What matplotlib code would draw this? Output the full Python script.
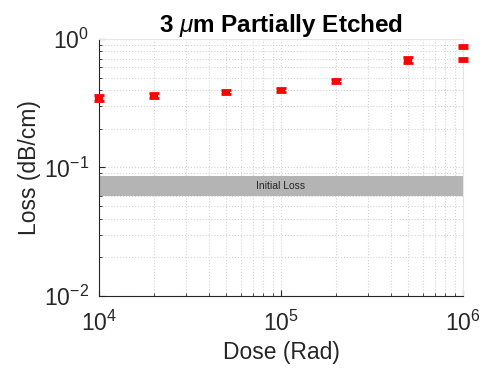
import matplotlib
matplotlib.use("Agg")
import matplotlib.pyplot as plt
import numpy as np

plt.rcParams['font.family'] = ['Liberation Sans', 'DejaVu Sans']
plt.rcParams['mathtext.fontset'] = 'custom'
plt.rcParams['mathtext.rm'] = 'Liberation Sans'
plt.rcParams['mathtext.it'] = 'Liberation Sans:italic'
plt.rcParams['mathtext.bf'] = 'Liberation Sans:bold'

# measured points (dose in Rad, loss in dB/cm)
dose = [1e4, 2e4, 5e4, 1e5, 2e5, 5e5, 1e6, 1e6]
loss = [0.348, 0.366, 0.387, 0.401, 0.471, 0.687, 0.88, 0.687]
err = [0.016, 0.016, 0.016, 0.016, 0.016, 0.040, 0.022, 0.018]

# initial loss band
band_lo = 0.060
band_hi = 0.086
band_label = "Initial Loss"

fig = plt.figure(figsize=(4.87, 3.75), dpi=100)
ax = fig.add_axes([0.203, 0.211, 0.748, 0.685])

ax.fill_between([1e4, 1e6], band_lo, band_hi, color='#b4b4b4', linewidth=0, zorder=1)
ax.text(np.sqrt(1e4 * 1e6), np.sqrt(band_lo * band_hi), band_label,
        ha='center', va='center', fontsize=7.5, color='#262626', zorder=2)

ax.errorbar(dose, loss, yerr=err, fmt='none', ecolor='red', elinewidth=6,
            capsize=3.5, capthick=2, zorder=3, clip_on=False)

ax.set_xscale('log')
ax.set_yscale('log')
ax.set_xlim(1e4, 1e6)
ax.set_ylim(1e-2, 1e0)

ax.grid(True, which='both', linestyle=':', color='#d4d4d4', linewidth=0.8)
ax.set_axisbelow(True)

for s in ['top', 'right']:
    ax.spines[s].set_color('#e6e6e6')
for s in ['left', 'bottom']:
    ax.spines[s].set_color('#262626')
    ax.spines[s].set_linewidth(0.8)

ax.tick_params(which='both', direction='in', colors='#262626', labelsize=16.5)
ax.tick_params(axis='x', pad=11)
ax.tick_params(axis='y', pad=7)
ax.tick_params(which='major', length=4)
ax.tick_params(which='minor', length=2.5)

ax.set_xlabel("Dose (Rad)", fontsize=16.5, color='#262626', labelpad=3)
ax.set_ylabel("Loss (dB/cm)", fontsize=16.5, color='#262626', labelpad=2)
ax.set_title(r"3 $\mu$m Partially Etched", fontsize=17.5, fontweight='bold', pad=5)

fig.savefig("out.png", dpi=100)
